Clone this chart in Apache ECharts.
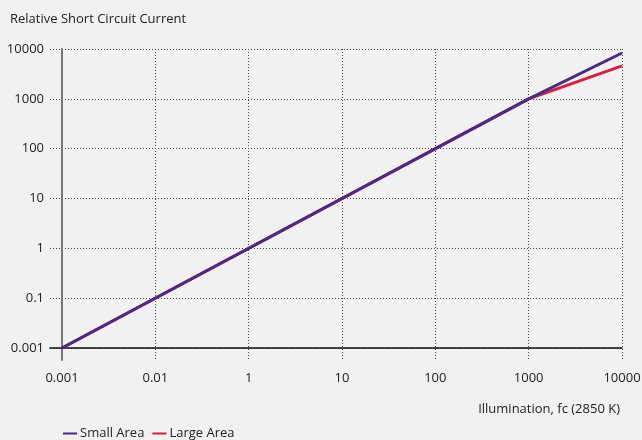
<!DOCTYPE html>
<html>
<head>
<meta charset="utf-8">
<script src="https://cdn.jsdelivr.net/npm/echarts@6/dist/echarts.min.js"></script>
<style>
  html, body { margin: 0; padding: 0; background: #f1f1f1; }
  #main { width: 642px; height: 440px; }
</style>
</head>
<body>
<div id="main"></div>
<script>
// tick labels (evenly spaced decades, as printed on the original)
const xLabels = ['0.001', '0.01', '1', '10', '100', '1000', '10000'];
const yLabels = ['0.001', '0.1', '1', '10', '100', '1000', '10000'];
const tickPos = [0, 1, 2, 3, 4, 5, 6];
// points as [x tick position, y tick position]
const smallArea = [[0, 0], [5, 5], [6, 5.92]];
const largeArea = [[0, 0], [5, 5], [6, 5.66]];

const font = '"Open Sans", sans-serif';
const myChart = echarts.init(document.getElementById('main'));
let option = {
    backgroundColor: '#f1f1f1',
    textStyle: { fontFamily: font },
    title: [
        {
            text: 'Relative Short Circuit Current',
            left: 5, top: 8,
            textStyle: { fontSize: 13, fontWeight: 'normal', color: '#222', fontFamily: font }
        },
        {
            text: 'Illumination, fc (2850 K)',
            right: 17, top: 398,
            textStyle: { fontSize: 13, fontWeight: 'normal', color: '#222', fontFamily: font }
        }
    ],
    legend: {
        left: 58, top: 422,
        icon: 'rect', itemWidth: 14, itemHeight: 2, itemGap: 8,
        data: ['Small Area', 'Large Area'],
        textStyle: { fontSize: 13, color: '#222', fontFamily: font, padding: [0, 0, 0, -2] }
    },
    // grid reaches past the axes so the dotted lines stick out like in the original
    grid: { left: 50, right: 20, top: 49, bottom: 80, containLabel: false, outerBoundsMode: 'none' },
    xAxis: {
        type: 'value', min: -0.1286, max: 6,
        axisLine: { show: true, onZero: true, lineStyle: { color: '#111', width: 1.5 } },
        axisTick: { show: false, customValues: tickPos },
        axisLabel: {
            margin: 12, fontSize: 13, color: '#222',
            customValues: tickPos,
            formatter: v => xLabels[v]
        },
        splitLine: { show: true, lineStyle: { type: [1, 2], color: '#444' } }
    },
    yAxis: {
        type: 'value', min: -0.2408, max: 6,
        axisLine: { show: true, onZero: true, lineStyle: { color: '#777', width: 2 } },
        axisTick: { show: false, customValues: tickPos },
        axisLabel: {
            margin: 6, fontSize: 13, color: '#222',
            customValues: tickPos,
            formatter: v => yLabels[v]
        },
        splitLine: { show: true, lineStyle: { type: [1, 2], color: '#444' } }
    },
    series: [
        {
            name: 'Large Area', type: 'line', data: largeArea,
            symbol: 'none', lineStyle: { width: 3, color: '#d3203f' },
            itemStyle: { color: '#d3203f' }
        },
        {
            name: 'Small Area', type: 'line', data: smallArea,
            symbol: 'none', lineStyle: { width: 3, color: '#4b2a86' },
            itemStyle: { color: '#4b2a86' }
        }
    ]
};
option && myChart.setOption(option);
</script>
</body>
</html>
